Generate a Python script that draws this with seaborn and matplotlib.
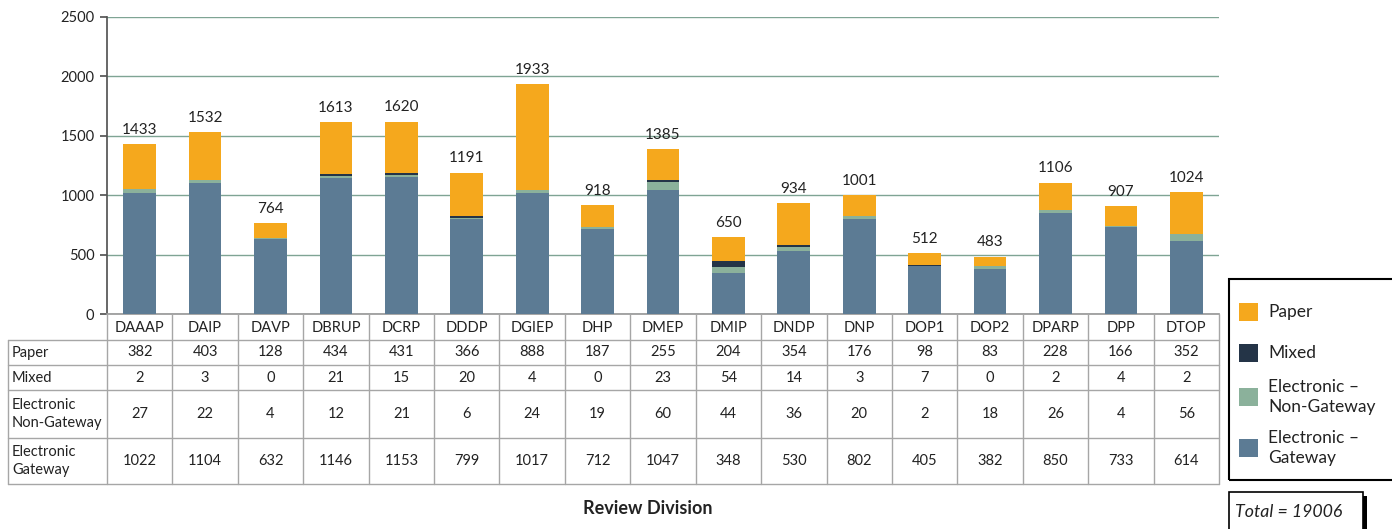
import matplotlib
matplotlib.use("Agg")
import matplotlib.pyplot as plt
import matplotlib.transforms as mtransforms
from matplotlib.lines import Line2D
from matplotlib.patches import Rectangle
import seaborn as sns
import pandas as pd

# Submissions per review division, split by submission type
divisions = ["DAAAP", "DAIP", "DAVP", "DBRUP", "DCRP", "DDDP", "DGIEP", "DHP", "DMEP",
             "DMIP", "DNDP", "DNP", "DOP1", "DOP2", "DPARP", "DPP", "DTOP"]
paper = [382, 403, 128, 434, 431, 366, 888, 187, 255, 204, 354, 176, 98, 83, 228, 166, 352]
mixed = [2, 3, 0, 21, 15, 20, 4, 0, 23, 54, 14, 3, 7, 0, 2, 4, 2]
electronic_non_gateway = [27, 22, 4, 12, 21, 6, 24, 19, 60, 44, 36, 20, 2, 18, 26, 4, 56]
electronic_gateway = [1022, 1104, 632, 1146, 1153, 799, 1017, 712, 1047, 348, 530, 802, 405,
                      382, 850, 733, 614]

series_names = ["Paper", "Mixed", "Electronic \u2013\nNon-Gateway", "Electronic \u2013\nGateway"]
row_names = ["Paper", "Mixed", "Electronic\nNon-Gateway", "Electronic\nGateway"]
colors = {"Paper": "#F5A81D", "Mixed": "#243447", "NonGW": "#8BB19B", "GW": "#5C7B94"}

df = pd.DataFrame({
    "division": divisions,
    "paper": paper,
    "mixed": mixed,
    "nongw": electronic_non_gateway,
    "gw": electronic_gateway,
})
# cumulative heights for stacking (draw tallest layer first)
df["c_gw"] = df["gw"]
df["c_nongw"] = df["c_gw"] + df["nongw"]
df["c_mixed"] = df["c_nongw"] + df["mixed"]
df["total"] = df["c_mixed"] + df["paper"]

W, H = 1392, 529
sns.set_theme(style="white")
plt.rcParams["font.family"] = ["Lato", "DejaVu Sans"]

fig = plt.figure(figsize=(W / 100, H / 100), dpi=100)
fig.patch.set_facecolor("white")


def fx(x):
    return x / W


def fy(y):
    return 1 - y / H


ax_left, ax_right, ax_top, ax_bot = 107, 1219, 17, 314
ax = fig.add_axes([fx(ax_left), fy(ax_bot), (ax_right - ax_left) / W, (ax_bot - ax_top) / H])

for col, key in [("total", "Paper"), ("c_mixed", "Mixed"), ("c_nongw", "NonGW"), ("c_gw", "GW")]:
    sns.barplot(data=df, x="division", y=col, color=colors[key], saturation=1,
                width=0.5, ax=ax, zorder=3, linewidth=0, edgecolor="none")

ax.set_xlim(-0.5, len(divisions) - 0.5)
ax.set_ylim(0, 2500)
ax.set_yticks([0, 500, 1000, 1500, 2000, 2500])
ax.yaxis.grid(True, color="#7FA494", linewidth=1, zorder=0)
ax.set_axisbelow(True)
ax.set_xlabel("")
ax.set_ylabel("")
ax.set_xticks([])
for s in ["top", "right"]:
    ax.spines[s].set_visible(False)
ax.spines["left"].set_color("#555555")
ax.spines["bottom"].set_color("#9A9A9A")
ax.tick_params(axis="y", left=True, length=5, color="#555555", labelsize=10.5,
               labelcolor="#222222", pad=4)

for i, tot in enumerate(df["total"]):
    ax.text(i, tot + 60, f"{tot}", ha="center", va="bottom", fontsize=11, color="#222222")

# data table beneath the plot
fig.canvas.draw()
blend = mtransforms.blended_transform_factory(ax.transData, fig.transFigure)
line_c = "#A6A6A6"
row_lines = [340, 365, 390, 438, 484]
for y in row_lines:
    fig.add_artist(Line2D([fx(8), fx(ax_right)], [fy(y), fy(y)], color=line_c, lw=1))
fig.add_artist(Line2D([fx(8), fx(8)], [fy(340), fy(484)], color=line_c, lw=1))
for k in range(len(divisions) + 1):
    fig.add_artist(Line2D([k - 0.5, k - 0.5], [fy(ax_bot), fy(484)], color=line_c, lw=1,
                          transform=blend))

row_centers = [352.5, 377.5, 414, 461]
table_rows = [paper, mixed, electronic_non_gateway, electronic_gateway]
for i, name in enumerate(divisions):
    fig.text(i, fy(327.5), name, transform=blend, ha="center", va="center", fontsize=10.5,
             color="#222222")
    for yc, vals in zip(row_centers, table_rows):
        fig.text(i, fy(yc), f"{vals[i]}", transform=blend, ha="center", va="center",
                 fontsize=10.5, color="#222222")
for yc, name in zip(row_centers, row_names):
    fig.text(fx(12), fy(yc), name, ha="left", va="center", fontsize=10.5, color="#222222",
             linespacing=1.45)

fig.text(fx(648), fy(508), "Review Division", ha="center", va="center", fontsize=13,
         fontweight="bold", color="#222222")

# legend box
fig.add_artist(Rectangle((fx(1229), fy(480)), fx(1420) - fx(1229), fy(279) - fy(480),
                         transform=fig.transFigure, fill=False, edgecolor="black", lw=1.5))
legend_items = [("Paper", 312), ("Mixed", 353), ("NonGW", 397), ("GW", 448)]
for (key, yc), label in zip(legend_items, series_names):
    fig.add_artist(Rectangle((fx(1239), fy(yc + 9)), 19 / W, 18 / H, transform=fig.transFigure,
                             facecolor=colors[key], edgecolor="none"))
    fig.text(fx(1268), fy(yc), label, ha="left", va="center", fontsize=12.5, color="#222222",
             linespacing=1.3)

# total box with drop shadow
fig.add_artist(Rectangle((fx(1233), fy(540)), 134 / W, 44 / H, transform=fig.transFigure,
                         facecolor="black", edgecolor="none"))
fig.add_artist(Rectangle((fx(1229), fy(540)), 134 / W, 48 / H, transform=fig.transFigure,
                         facecolor="white", edgecolor="black", lw=1.2))
fig.text(fx(1235), fy(512), "Total = " + f"{int(df['total'].sum())}", ha="left", va="center",
         fontsize=12.8, style="italic", color="#222222")

fig.savefig("out.png", dpi=100)
